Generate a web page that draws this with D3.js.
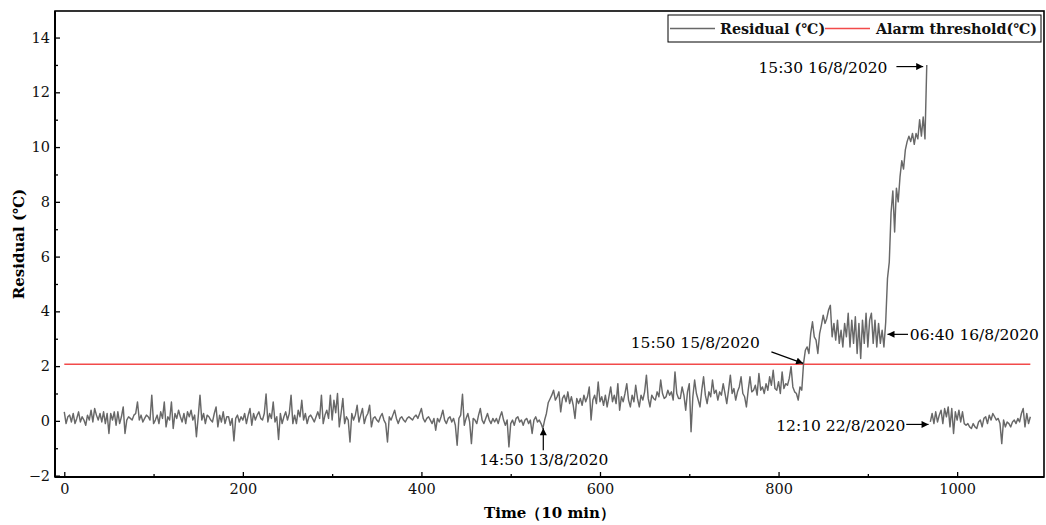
<!DOCTYPE html>
<html><head><meta charset="utf-8">
<script src="https://cdn.jsdelivr.net/npm/d3@7"></script>
<style>body{margin:0;background:#fff}svg{display:block}</style>
</head><body><svg id="chart" width="1046" height="525"></svg>
<script>
// ---------------- data ----------------
const timeStep = 2; // one value per 2 time steps (10 min each)
const residual = [
 0.33,-0.10,0.15,0.21,-0.04,0.27,-0.10,0.09,0.33,-0.04,
 0.15,0.03,-0.16,0.21,0.03,0.39,-0.04,0.45,0.21,0.03,
 0.27,-0.04,0.33,-0.10,0.27,-0.46,0.27,0.03,0.33,-0.16,
 0.33,-0.10,0.15,0.51,-0.46,0.03,0.15,0.09,0.03,0.21,
 0.27,0.69,0.03,0.21,-0.04,0.09,0.21,0.15,0.03,0.94,
 -0.10,0.03,0.21,-0.10,0.33,0.09,0.69,-0.22,0.15,0.03,
 0.69,-0.28,0.27,0.09,0.39,0.15,-0.04,0.27,-0.10,0.33,
 0.15,0.39,0.03,0.21,-0.58,0.15,0.94,0.03,0.27,-0.10,
 0.21,0.15,0.03,-0.04,0.27,0.51,-0.22,0.21,-0.04,0.33,
 -0.10,0.15,0.15,-0.16,0.09,-0.73,0.09,0.21,-0.04,0.15,
 0.03,0.27,-0.10,0.21,0.45,-0.16,0.27,0.03,0.21,0.33,
 0.09,0.03,0.27,0.98,-0.04,0.27,0.09,0.69,-0.04,0.15,
 -0.68,0.27,-0.10,0.15,0.33,0.03,0.27,0.94,-0.10,0.21,
 -0.10,0.39,0.15,0.75,0.03,0.27,-0.10,0.15,0.21,0.09,
 -0.04,0.15,0.33,0.09,0.94,-0.10,0.21,0.39,0.09,0.94,
 0.03,0.75,0.30,1.00,-0.22,0.27,0.82,-0.10,0.15,0.03,
 -0.77,0.27,0.03,0.21,0.57,-0.04,0.21,0.45,-0.10,0.15,
 0.27,0.57,-0.22,0.09,0.15,0.03,-0.04,0.15,0.27,0.03,
 -0.10,-0.77,0.15,0.03,0.21,0.39,0.09,-0.10,0.09,0.15,
 0.03,-0.04,0.09,0.15,0.09,0.03,0.15,0.21,0.09,0.27,
 0.45,0.09,-0.04,0.09,0.15,0.03,-0.10,0.09,-0.34,0.09,
 -0.04,0.15,0.39,0.03,-0.10,0.09,0.15,-0.04,0.09,-0.16,
 -0.89,0.09,0.21,0.97,-0.16,0.09,0.27,-0.04,-0.83,0.09,
 0.03,-0.10,0.21,0.45,0.03,-0.10,0.09,0.27,0.03,-0.10,
 0.09,-0.04,0.09,-0.10,0.15,0.33,0.03,-0.16,0.03,-0.95,
 -0.10,0.03,-0.16,0.09,0.15,-0.04,0.03,-0.16,0.03,0.09,
 -0.10,0.03,-0.46,0.03,0.15,-0.04,0.03,-0.10,-0.28,0.03,
 0.27,0.66,0.80,
 // 546 .. 826
 0.94,1.12,0.76,0.88,1.06,0.33,0.82,0.94,0.70,1.06,
 0.63,0.88,0.57,0.09,0.82,0.63,0.82,0.57,0.94,0.70,
 0.88,1.24,0.03,0.76,0.94,0.63,1.42,0.70,0.88,0.57,
 0.94,0.51,0.88,1.24,0.70,0.94,0.63,1.36,0.39,0.88,
 0.70,1.00,1.36,0.76,0.51,0.94,0.70,1.30,0.82,0.51,
 0.94,0.76,1.06,1.67,0.82,0.51,0.94,0.82,0.76,1.06,
 0.88,1.49,1.00,0.82,0.88,1.12,0.94,1.06,0.76,1.79,
 1.00,0.82,0.82,1.24,0.94,0.39,1.06,1.36,-0.40,0.88,
 1.49,1.00,0.76,0.51,1.12,1.61,0.94,0.63,1.06,0.88,
 1.49,1.00,1.12,0.76,1.06,0.94,1.36,1.00,0.63,1.12,
 1.67,1.00,1.18,0.76,1.06,1.24,1.61,1.00,0.88,0.51,
 1.12,1.61,1.06,1.12,1.30,0.94,1.73,1.12,1.24,1.00,
 1.36,1.12,1.61,1.30,1.85,1.18,1.12,1.43,1.00,1.79,
 1.18,1.36,1.30,1.55,1.98,1.24,1.06,1.00,0.76,1.24,
 1.12,
 // 828 .. 918
 2.10,2.58,2.70,2.46,3.19,3.62,3.07,2.95,2.46,3.19,
 3.50,3.86,3.56,3.74,4.05,4.22,3.07,3.56,2.95,3.68,
 2.83,3.31,2.70,3.56,3.07,3.93,2.70,3.68,2.83,3.80,
 2.46,3.56,2.28,3.68,2.83,3.93,2.70,3.68,3.93,2.83,
 3.68,2.70,3.56,2.83,3.31,2.70,
 // 920 .. 966
 3.6,5.2,5.8,7.6,8.4,6.9,8.5,8.0,8.9,9.5,9.2,9.9,
 10.2,10.4,10.2,10.5,10.1,10.5,10.3,11.0,10.4,11.1,10.3,13.0,
 // gap
 null,
 // 970 .. 1082
 -0.04,0.27,-0.10,0.33,-0.04,0.21,0.39,-0.10,0.45,0.15,
 0.51,-0.22,0.45,-0.46,0.33,0.03,0.39,-0.04,0.33,-0.10,
 -0.16,-0.10,-0.22,-0.28,-0.10,-0.22,-0.28,-0.04,0.03,-0.22,
 0.09,0.15,-0.10,0.21,0.03,0.27,0.15,0.03,0.09,-0.10,
 -0.83,0.03,-0.22,-0.04,-0.10,-0.22,-0.04,0.03,-0.10,0.09,
 -0.04,0.27,0.45,-0.22,0.27,-0.10,0.15
];
const threshold = 2.07;
const thresholdSpan = [0, 1082];
const xTicks = [0, 200, 400, 600, 800, 1000];
const xMinorTicks = [100, 300, 500, 700, 900];
const yTicks = [-2, 0, 2, 4, 6, 8, 10, 12, 14];
const yMinorTicks = [-1, 1, 3, 5, 7, 9, 11, 13];
const xTitle = "Time（10 min）";
const yTitle = "Residual (℃)";
const legendLabels = ["Residual (℃)", "Alarm threshold(℃)"];
// annotations: text anchor point and arrow (from -> to) in data units
const annotations = [
  {text: "14:50 13/8/2020", tx: 537, ty: -1.62, anchor: "middle", from: [536.5, -1.07], to: [536.5, -0.27]},
  {text: "15:50 15/8/2020", tx: 779, ty: 2.66, anchor: "end", from: [792, 2.52], to: [827.5, 2.1]},
  {text: "06:40 16/8/2020", tx: 947, ty: 2.95, anchor: "start", from: [945, 3.16], to: [922, 3.16]},
  {text: "15:30 16/8/2020", tx: 922, ty: 12.7, anchor: "end", from: [932, 12.94], to: [962, 12.94]},
  {text: "12:10 22/8/2020", tx: 942, ty: -0.37, anchor: "end", from: [943, -0.13], to: [968, -0.13]}
];

// ---------------- layout ----------------
const W = 1046, H = 525;
const plot = {left: 55, right: 1044, top: 11, bottom: 477};
const FONT = "'Palatino Linotype','Book Antiqua',Palatino,'DejaVu Serif',serif";

const x = d3.scaleLinear().domain([-10.4, 1097.3]).range([plot.left, plot.right]);
const y = d3.scaleLinear().domain([-2.05, 14.97]).range([plot.bottom, plot.top]);

const svg = d3.select("#chart");
svg.append("rect").attr("width", W).attr("height", H).attr("fill", "#fff");

const defs = svg.append("defs");
defs.append("marker").attr("id", "arrow")
  .attr("viewBox", "0 0 10 10").attr("refX", 10).attr("refY", 5)
  .attr("markerWidth", 9).attr("markerHeight", 7).attr("markerUnits", "userSpaceOnUse")
  .attr("orient", "auto")
  .append("path").attr("d", "M0,0 L10,5 L0,10 z").attr("fill", "#000");
defs.append("clipPath").attr("id", "clip").append("rect")
  .attr("x", plot.left).attr("y", plot.top)
  .attr("width", plot.right - plot.left).attr("height", plot.bottom - plot.top);

// threshold line
svg.append("line")
  .attr("x1", x(thresholdSpan[0])).attr("x2", x(thresholdSpan[1]))
  .attr("y1", y(threshold)).attr("y2", y(threshold))
  .attr("stroke", "#f24a4a").attr("stroke-width", 1.5);

// residual line
const line = d3.line()
  .defined(d => d !== null)
  .x((d, i) => x(i * timeStep))
  .y(d => y(d));
svg.append("path").datum(residual)
  .attr("clip-path", "url(#clip)")
  .attr("d", line)
  .attr("fill", "none").attr("stroke", "#686868").attr("stroke-width", 1.45)
  .attr("stroke-linejoin", "round");

// axes
svg.append("g").attr("transform", `translate(0,${plot.bottom})`)
  .call(d3.axisBottom(x).tickValues(xTicks).tickSizeInner(-5).tickSizeOuter(0).tickPadding(7)
  .tickFormat(d3.format("d")));
svg.append("g").attr("transform", `translate(0,${plot.bottom})`)
  .call(d3.axisBottom(x).tickValues(xMinorTicks).tickSizeInner(-3).tickSizeOuter(0).tickFormat(""));
svg.append("g").attr("transform", `translate(${plot.left},0)`)
  .call(d3.axisLeft(y).tickValues(yTicks).tickSizeInner(-5).tickSizeOuter(0).tickPadding(5)
  .tickFormat(d => d < 0 ? "−" + Math.abs(d) : String(d)));
svg.append("g").attr("transform", `translate(${plot.left},0)`)
  .call(d3.axisLeft(y).tickValues(yMinorTicks).tickSizeInner(-3).tickSizeOuter(0).tickFormat(""));
svg.selectAll(".domain").remove();
svg.selectAll(".tick line").attr("stroke", "#000").attr("stroke-width", 1.3);
svg.selectAll(".tick text").attr("font-family", FONT).attr("font-size", 14.5).attr("fill", "#111");

// frame
svg.append("rect")
  .attr("x", plot.left).attr("y", plot.top)
  .attr("width", plot.right - plot.left).attr("height", plot.bottom - plot.top)
  .attr("fill", "none").attr("stroke", "#000").attr("stroke-width", 1.6);
svg.append("line").attr("x1", plot.left).attr("x2", plot.right)
  .attr("y1", plot.bottom).attr("y2", plot.bottom).attr("stroke", "#000").attr("stroke-width", 2);
svg.append("line").attr("x1", plot.left).attr("x2", plot.left)
  .attr("y1", plot.top).attr("y2", plot.bottom).attr("stroke", "#000").attr("stroke-width", 2);

// axis titles
svg.append("text").attr("x", (x(-10.4) + x(1097.3)) / 2).attr("y", 518)
  .attr("text-anchor", "middle").attr("font-family", FONT).attr("font-weight", "bold")
  .attr("font-size", 15).text(xTitle);
svg.append("text").attr("transform", `translate(24,${(plot.top + plot.bottom) / 2}) rotate(-90)`)
  .attr("text-anchor", "middle").attr("font-family", FONT).attr("font-weight", "bold")
  .attr("font-size", 15).text(yTitle);

// annotations
const ann = svg.append("g");
annotations.forEach(a => {
  ann.append("text").attr("x", x(a.tx)).attr("y", y(a.ty))
    .attr("text-anchor", a.anchor).attr("font-family", FONT).attr("font-size", 15.5)
    .attr("fill", "#000").text(a.text);
  ann.append("line")
    .attr("x1", x(a.from[0])).attr("y1", y(a.from[1]))
    .attr("x2", x(a.to[0])).attr("y2", y(a.to[1]))
    .attr("stroke", "#000").attr("stroke-width", 1.2).attr("marker-end", "url(#arrow)");
});

// legend
const lg = svg.append("g");
lg.append("rect").attr("x", 668).attr("y", 15).attr("width", 373).attr("height", 27)
  .attr("fill", "#fff").attr("stroke", "#000").attr("stroke-width", 1);
const legendItems = [
  {label: legendLabels[0], color: "#686868", lx1: 670, lx2: 715, tx: 720},
  {label: legendLabels[1], color: "#f24a4a", lx1: 825, lx2: 870, tx: 876}
];
legendItems.forEach(it => {
  lg.append("line").attr("x1", it.lx1).attr("x2", it.lx2).attr("y1", 28.5).attr("y2", 28.5)
    .attr("stroke", it.color).attr("stroke-width", 1.5);
  lg.append("text").attr("x", it.tx).attr("y", 34).attr("font-family", FONT)
    .attr("font-weight", "bold").attr("font-size", 14.3).attr("fill", "#111").text(it.label);
});
</script></body></html>
